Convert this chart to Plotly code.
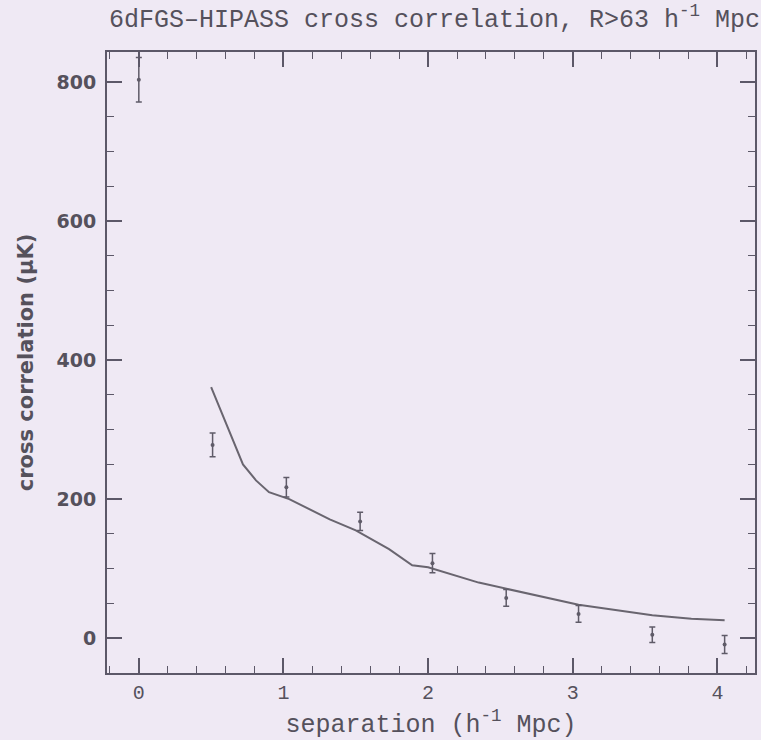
import plotly.graph_objects as go

# Data
sep_points = [0.0, 0.51, 1.02, 1.53, 2.03, 2.54, 3.04, 3.55, 4.05]
xcorr_points = [803, 278, 217, 168, 108, 58, 35, 5, -9]
xcorr_err = [32, 17, 14, 13, 14, 12, 12, 11, 13]

model_sep = [0.50, 0.72, 0.81, 0.90, 1.04, 1.16, 1.32, 1.50, 1.73, 1.89, 2.00,
             2.35, 2.70, 3.04, 3.55, 3.82, 4.05]
model_xcorr = [361, 250, 227, 210, 200, 188, 171, 155, 128, 105, 102,
               80, 64, 48, 33, 28, 26]

x_ticks = [0, 1, 2, 3, 4]
y_ticks = [0, 200, 400, 600, 800]

BG = "#efe9f4"
INK = "#5c5868"
TXT = "#55515c"

fig = go.Figure()
fig.add_trace(go.Scatter(
    x=model_sep, y=model_xcorr, mode="lines",
    line=dict(color="#69656f", width=2), showlegend=False,
))
fig.add_trace(go.Scatter(
    x=sep_points, y=xcorr_points, mode="markers",
    marker=dict(color="#5f5b68", size=4),
    error_y=dict(type="data", array=xcorr_err, visible=True,
                 color="#5f5b68", thickness=1.5, width=3),
    showlegend=False,
))

fig.update_layout(
    width=761, height=740,
    paper_bgcolor=BG, plot_bgcolor=BG,
    margin=dict(l=107, r=4, t=52, b=67),
    annotations=[dict(
        text="6dFGS\u2013HIPASS cross correlation, R>63 h<sup>-1</sup> Mpc",
        xref="paper", yref="paper", x=0.0, y=1.0, yshift=15,
        xanchor="left", yanchor="bottom", showarrow=False,
        font=dict(family="Liberation Mono", size=25, color=TXT),
    )],
)

fig.update_xaxes(
    range=[-0.22, 4.26], tickvals=x_ticks, ticktext=[str(v) for v in x_ticks],
    ticks="inside", ticklen=15, tickwidth=1.5, tickcolor=INK,
    minor=dict(dtick=0.2, tick0=0, ticks="inside", ticklen=7, tickwidth=1.2, tickcolor=INK),
    showline=True, linecolor=INK, linewidth=2, mirror="allticks",
    showgrid=False, zeroline=False,
    tickfont=dict(family="Liberation Mono", size=20, color=TXT),
    title=dict(text="separation (h<sup>-1</sup> Mpc)", standoff=10,
               font=dict(family="Liberation Mono", size=25, color=TXT)),
)
fig.update_yaxes(
    range=[-50, 843], tickvals=y_ticks, ticktext=[str(v) for v in y_ticks],
    ticks="inside", ticklen=15, tickwidth=1.5, tickcolor=INK,
    minor=dict(dtick=50, tick0=0, ticks="inside", ticklen=7, tickwidth=1.2, tickcolor=INK),
    showline=True, linecolor=INK, linewidth=2, mirror="allticks",
    showgrid=False, zeroline=False, ticklabelstandoff=5,
    tickfont=dict(family="DejaVu Sans", size=19, color=TXT, weight="bold"),
    title=dict(text="cross correlation (\u03bcK)", standoff=17,
               font=dict(family="DejaVu Sans", size=21, color=TXT, weight="bold")),
)

fig.write_html("out.html")
